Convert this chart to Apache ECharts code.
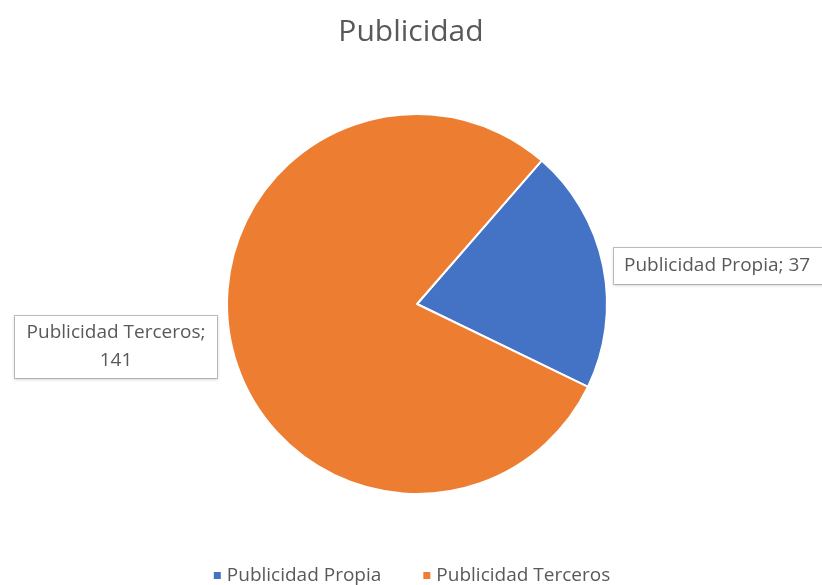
<!DOCTYPE html>
<html>
<head>
<meta charset="utf-8">
<script src="https://cdn.jsdelivr.net/npm/echarts@6/dist/echarts.min.js"></script>
<style>
  html, body { margin: 0; padding: 0; background: #fff; }
  #chart { width: 822px; height: 585px; }
</style>
</head>
<body>
<div id="chart"></div>
<script>
// data
const categories = ["Publicidad Propia", "Publicidad Terceros"];
const values = [37, 141];
const colors = ["#4472c4", "#ed7d31"];

// where each callout box sits
const labelSpots = [
    { x: 614, y: 266, align: "left" },
    { x: 116, y: 347, align: "center" }
];

const chart = echarts.init(document.getElementById("chart"));

const labelBase = {
    show: true,
    color: "#595959",
    fontFamily: "Open Sans",
    fontSize: 19,
    lineHeight: 28,
    backgroundColor: "#fff",
    borderColor: "#bfbfbf",
    borderWidth: 1,
    shadowColor: "rgba(0,0,0,0.12)",
    shadowBlur: 3,
    shadowOffsetY: 1
};

chart.setOption({
    title: {
        text: "Publicidad",
        left: "center",
        top: 12,
        textStyle: { color: "#595959", fontFamily: "Open Sans", fontSize: 30, fontWeight: "normal" }
    },
    legend: {
        top: 561,
        left: "center",
        itemWidth: 9,
        itemHeight: 9,
        itemGap: 40,
        icon: "rect",
        textStyle: { color: "#595959", fontFamily: "Open Sans", fontSize: 19 },
        data: categories
    },
    series: [{
        type: "pie",
        center: [417, 304],
        radius: 190,
        startAngle: 49,
        clockwise: true,
        avoidLabelOverlap: false,
        itemStyle: { borderColor: "#fff", borderWidth: 2 },
        labelLine: { show: false },
        labelLayout: function (params) {
            const spot = labelSpots[params.dataIndex];
            return { x: spot.x, y: spot.y, align: spot.align, verticalAlign: "middle" };
        },
        emphasis: { disabled: true },
        data: categories.map((name, i) => ({
            name: name,
            value: values[i],
            itemStyle: { color: colors[i] },
            label: Object.assign({}, labelBase, i === 0
                ? { formatter: "{b}; {c}", padding: [4, 16, 4, 10] }
                : { formatter: "{b};\n{c}", padding: [3, 10, 3, 10], align: "center", width: 182 })
        }))
    }]
});
</script>
</body>
</html>
